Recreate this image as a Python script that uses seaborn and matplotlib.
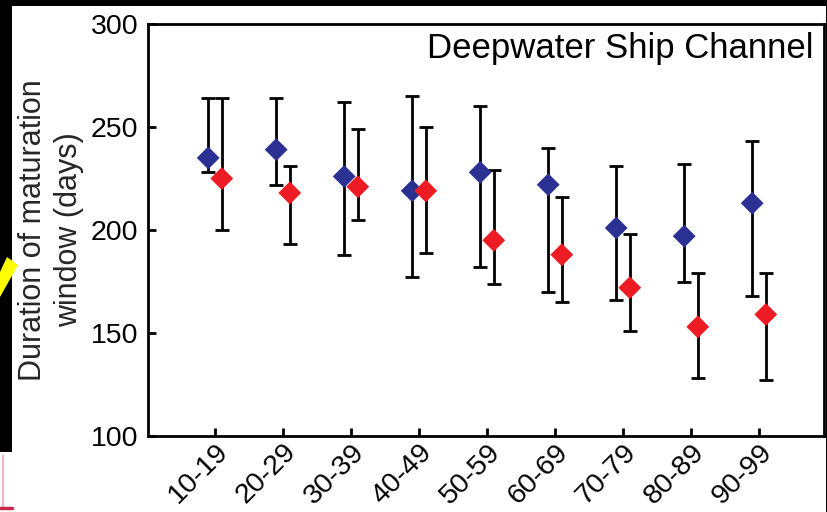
import matplotlib
matplotlib.use("Agg")
import matplotlib.pyplot as plt
import matplotlib.patches as mpatches
import matplotlib.lines as mlines
import numpy as np
import pandas as pd
import seaborn as sns

# Age classes on the x axis
age_classes = ["10-19", "20-29", "30-39", "40-49", "50-59",
               "60-69", "70-79", "80-89", "90-99"]

# Series A (blue): central estimate and interval bounds (days)
a_mid = [235, 239, 226, 219, 228, 222, 201, 197, 213]
a_high = [264, 264, 262, 265, 260, 240, 231, 232, 243]
a_low = [228, 222, 188, 177, 182, 170, 166, 175, 168]

# Series B (red): central estimate and interval bounds (days)
b_mid = [225, 218, 221, 219, 195, 188, 172, 153, 159]
b_high = [264, 231, 249, 250, 229, 216, 198, 179, 179]
b_low = [200, 193, 205, 189, 174, 165, 151, 128, 127]

y_ticks = [100, 150, 200, 250, 300]

BLUE = "#2b3192"
RED = "#ed1c24"

sns.set_theme(style="ticks")
plt.rcParams["font.family"] = ["Liberation Sans", "DejaVu Sans"]

fig = plt.figure(figsize=(8.28, 5.12), dpi=100)
fig.patch.set_facecolor("white")
ax = fig.add_axes([148 / 828, 1 - 436 / 512, 676 / 828, 412 / 512])

offset = 0.1
idx = np.arange(len(age_classes))
frames = []
for name, mid, lo, hi, shift in [("Series A", a_mid, a_low, a_high, -offset),
                                 ("Series B", b_mid, b_low, b_high, offset)]:
    frames.append(pd.DataFrame({
        "pos": idx + shift,
        "days": mid,
        "low": lo,
        "high": hi,
        "series": name,
    }))
df = pd.concat(frames, ignore_index=True)

# Interval whiskers
for name, sub in df.groupby("series"):
    ax.errorbar(sub["pos"], sub["days"],
                yerr=[sub["days"] - sub["low"], sub["high"] - sub["days"]],
                fmt="none", ecolor="black", elinewidth=2.0,
                capsize=4.8, capthick=2.0, zorder=2)

# Diamond markers
sns.scatterplot(data=df, x="pos", y="days", hue="series",
                palette={"Series A": BLUE, "Series B": RED},
                marker="D", s=135, linewidth=0, legend=False,
                ax=ax, zorder=3)

ax.set_xlim(-0.985, 8.956)
ax.set_ylim(100, 300)
ax.set_yticks(y_ticks)
ax.set_yticklabels([str(v) for v in y_ticks])
ax.set_xticks(idx)
ax.set_xticklabels(age_classes, rotation=45, ha="right",
                   rotation_mode="anchor")

for side in ["left", "right", "top", "bottom"]:
    ax.spines[side].set_visible(True)
    ax.spines[side].set_linewidth(2.0)
    ax.spines[side].set_color("black")

ax.tick_params(axis="both", direction="in", length=5.5, width=2.0,
               colors="black", labelsize=20.5, pad=7)
ax.tick_params(axis="x", pad=2)
ax.tick_params(top=False, right=False)

ax.set_xlabel("")
ax.set_ylabel("Duration of maturation\nwindow (days)", fontsize=22,
              labelpad=5, linespacing=1.25)

ax.text(0.984, 0.917, "Deepwater Ship Channel", transform=ax.transAxes,
        ha="right", va="baseline", fontsize=25, color="black")

# Dark frame around the panel
W, H = 828, 512
def fig_rect(x0, y0, x1, y1, color):
    fig.patches.append(mpatches.Rectangle(
        (x0 / W, 1 - y1 / H), (x1 - x0) / W, (y1 - y0) / H,
        transform=fig.transFigure, facecolor=color, edgecolor="none",
        zorder=10))

fig_rect(0, 0, W, 6, "black")
fig_rect(0, 0, 12, 452, "black")
fig_rect(826, 0, W, H, "black")

# Yellow pointer at the left edge
pts = [(0, 272), (7, 257), (18, 265), (0, 297)]
fig.patches.append(mpatches.Polygon(
    [(x / W, 1 - y / H) for x, y in pts], closed=True,
    transform=fig.transFigure, facecolor="#ffff00", edgecolor="none",
    zorder=11))

# Thin red corner mark at lower left
fig.lines.append(mlines.Line2D([3 / W, 3 / W], [1 - 455 / H, 1 - 507 / H],
                               transform=fig.transFigure, color="#f4b8c4",
                               linewidth=1.5, zorder=11))
fig.lines.append(mlines.Line2D([0, 12 / W], [1 - 508 / H, 1 - 508 / H],
                               transform=fig.transFigure, color="#c8284a",
                               linewidth=2.5, zorder=11))

fig.savefig("out.png", dpi=100, facecolor="white")
